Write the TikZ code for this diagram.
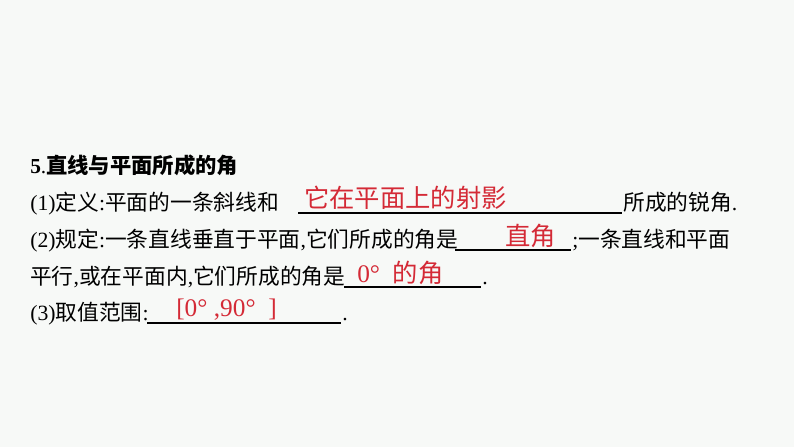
\documentclass[tikz,border=0pt]{standalone}
\usepackage{fontspec}
\setmainfont{Liberation Serif}
\newfontfamily\cjk{Noto Sans CJK SC}
\definecolor{bg}{HTML}{F7F9F7}
\definecolor{ans}{HTML}{D42A36}
\begin{document}
\begin{tikzpicture}[x=0.75pt,y=-0.75pt,
  txt/.style={anchor=base west,inner sep=0pt,font=\fontsize{16.3pt}{19pt}\selectfont},
  ttl/.style={anchor=base west,inner sep=0pt,font=\fontsize{16pt}{18pt}\selectfont},
  red/.style={anchor=base west,inner sep=0pt,font=\fontsize{19pt}{21pt}\selectfont,text=ans},
  blank/.style={line width=0.8pt}]
\fill[bg] (0,0) rectangle (794,447);
\node[ttl] (t1) at (30,173) {\textbf{5}.{\cjk\bfseries 直线与平面所成的角}};
\node[txt] (t2a) at (30,210) {(1){\cjk 定义}:{\cjk 平面的一条斜线和}};
\coordinate (u2a) at (298,213); \coordinate (u2b) at (622,213);
\draw[blank] (u2a) -- (u2b);
\node[red] (r2) at (304,207) {\cjk 它在平面上的射影};
\node[txt] (t2b) at (623,210) {{\cjk 所成的锐角}.};
\node[txt] (t3a) at (30,247) {(2){\cjk 规定}:{\cjk 一条直线垂直于平面},{\cjk 它们所成的角是}};
\coordinate (u3a) at (455,250); \coordinate (u3b) at (571,250);
\draw[blank] (u3a) -- (u3b);
\node[red] (r3) at (505,245) {\cjk 直角};
\node[txt] (t3b) at (572,247) {;{\cjk 一条直线和平面}};
\node[txt] (t4a) at (30,284) {{\cjk 平行},{\cjk 或在平面内},{\cjk 它们所成的角是}};
\coordinate (u4a) at (344,287); \coordinate (u4b) at (481,287);
\draw[blank] (u4a) -- (u4b);
\node[red] (r4) at (357,282) {0\textdegree\ \ {\cjk 的角}};
\node[txt] (t4b) at (482,284) {.};
\node[txt] (t5a) at (30,320) {(3){\cjk 取值范围}:};
\coordinate (u5a) at (147,323); \coordinate (u5b) at (341,323);
\draw[blank] (u5a) -- (u5b);
\node[red] (r5) at (176,316) {[0\textdegree\ ,90\textdegree\ \ ]};
\node[txt] (t5b) at (342,320) {.};
\end{tikzpicture}
\end{document}
